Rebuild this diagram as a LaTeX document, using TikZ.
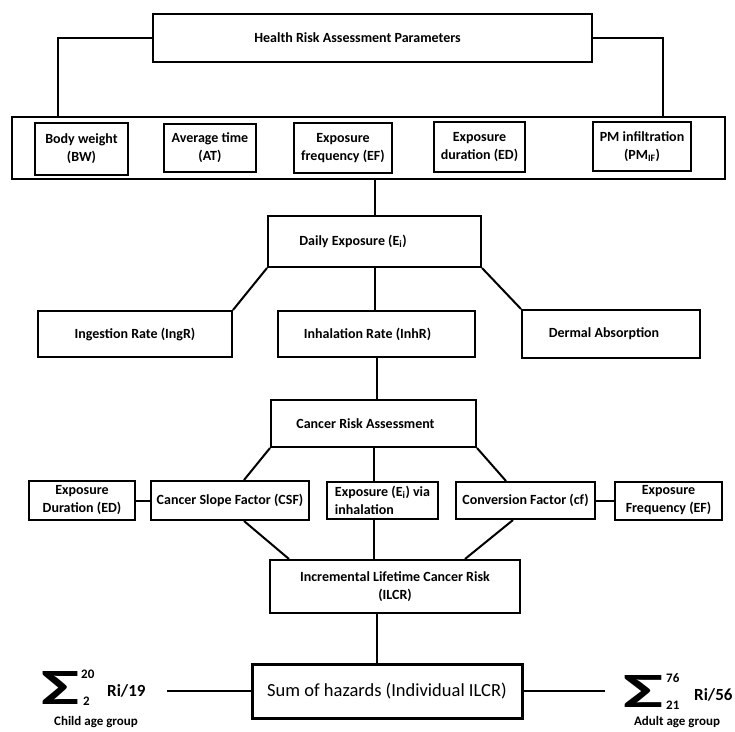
\documentclass[tikz,border=0pt]{standalone}
\usepackage{fontspec}
\setmainfont{Carlito}
\usetikzlibrary{calc}

\begin{document}
\begin{tikzpicture}[x=1pt,y=-1pt,
   font=\bfseries\fontsize{14}{18}\selectfont,
   box/.style={draw,line width=2pt,inner sep=2pt,align=center},
   link/.style={line width=2pt},
   lim/.style={inner sep=0pt,font=\bfseries\fontsize{13}{13}\selectfont}]
\useasboundingbox (0,0) rectangle (735,731);
% top: parameters
\node[box,minimum width=439pt,minimum height=48pt] (hra) at (372.5,38) {Health Risk Assessment Parameters\hspace*{30pt}};
\node[box,minimum width=713pt,minimum height=62pt] (par) at (368.5,148) {};
\node[box,minimum width=93pt,minimum height=52pt] (bw) at (81.5,149) {Body weight\\(BW)};
\node[box,minimum width=92pt,minimum height=48pt] (at) at (210,148) {Average time\\(AT)};
\node[box,minimum width=98pt,minimum height=50pt,inner sep=1pt] (ef) at (343,148) {Exposure\\frequency (EF)};
\node[box,minimum width=91pt,minimum height=50pt,inner sep=1pt] (ed) at (479.5,147) {Exposure\\duration (ED)};
\node[box,minimum width=98pt,minimum height=49pt,inner sep=1pt] (pm) at (642,146.5) {PM infiltration\\(PM\textsubscript{IF})};
\draw[link] (hra.west) -| ($(par.north west)+(47,0)$);
\draw[link] (hra.east) -| ($(par.north east)+(-63,0)$);
% exposure
\node[box,minimum width=213pt,minimum height=51pt] (daily) at (374.5,241.5) {Daily Exposure (E\textsubscript{i})\hspace*{43pt}};
\node[box,minimum width=194pt,minimum height=46pt] (ingr) at (135,334) {Ingestion Rate (IngR)};
\node[box,minimum width=197pt,minimum height=46pt] (inhr) at (376.5,334) {Inhalation Rate (InhR)\hspace*{18pt}};
\node[box,minimum width=178pt,minimum height=48pt] (derm) at (611,334) {Dermal Absorption\hspace*{14pt}};
\draw[link] (daily.north) -- (daily.north |- par.south);
\draw[link] (daily.south west) -- (ingr.north east);
\draw[link] (daily.south) -- (daily.south |- inhr.north);
\draw[link] (daily.south east) -- (derm.north west);
% cancer risk
\node[box,minimum width=205pt,minimum height=47pt] (cra) at (373.5,423.5) {Cancer Risk Assessment\hspace*{16pt}};
\node[box,minimum width=106pt,minimum height=39pt,inner sep=0pt] (edl) at (82,500.5) {Exposure\\Duration (ED)};
\node[box,minimum width=158pt,minimum height=39pt,inner sep=0pt] (csf) at (230,500.5) {Cancer Slope Factor (CSF)};
\node[box,minimum width=111pt,minimum height=37pt,inner sep=0pt,align=left] (expi) at (382.5,500.5) {Exposure (E\textsubscript{i}) via\\inhalation};
\node[box,minimum width=139pt,minimum height=37pt,inner sep=0pt] (cf) at (525.5,500.5) {Conversion Factor (cf)};
\node[box,minimum width=107pt,minimum height=38pt,inner sep=0pt] (efr) at (668.5,500.5) {Exposure\\Frequency (EF)};
\draw[link] (inhr.south) -- (inhr.south |- cra.north);
\draw[link] (cra.south west) -- ($(csf.north)+(14,0)$);
\draw[link] (cra.south) -- (cra.south |- expi.north);
\draw[link] (cra.south east) -- ($(cf.north)+(-19.5,0)$);
\draw[link] (edl) -- (csf);
\draw[link] (cf) -- (efr);
% ILCR and sum
\node[box,minimum width=250pt,minimum height=53pt] (ilcr) at (395,586.5) {Incremental Lifetime Cancer Risk\\(ILCR)};
\node[box,line width=3pt,minimum width=270pt,minimum height=54pt,font=\fontsize{18.5}{22}\selectfont] (sum) at (387,691) {Sum of hazards (Individual ILCR)};
\draw[link] ($(csf.south)+(14,0)$) -- ($(ilcr.north west)+(20,0)$);
\draw[link] (cra.south |- expi.south) -- (cra.south |- ilcr.north);
\draw[link] ($(cf.south)+(-12.5,0)$) -- ($(ilcr.north east)+(-56,0)$);
\draw[link] ($(ilcr.south)+(-18,0)$) -- ($(sum.north)+(-10,0)$);
% age groups
\node[inner sep=0pt] (sigc) at (61,688) {\resizebox{38pt}{33pt}{Σ}};
\node[lim,anchor=west] (c20) at (81,674) {20};
\node[lim,anchor=west] (c2) at (83,701) {2};
\node[inner sep=0pt,anchor=west,font=\bfseries\fontsize{17}{17}\selectfont] (ri19) at (107,691) {Ri/19};
\node[inner sep=1pt,font=\bfseries\fontsize{13}{15}\selectfont] (child) at (96,722) {Child age group};
\node[inner sep=0pt] (siga) at (643,691) {\resizebox{40pt}{32pt}{Σ}};
\node[lim,anchor=west] (a76) at (666,678) {76};
\node[lim,anchor=west] (a21) at (666,705) {21};
\node[inner sep=0pt,anchor=west,font=\bfseries\fontsize{17}{17}\selectfont] (ri56) at (694,695) {Ri/56};
\node[inner sep=1pt,font=\bfseries\fontsize{13}{15}\selectfont] (adult) at (677,722) {Adult age group};
\coordinate (cl) at (167,691);
\coordinate (cr) at (605,691);
\draw[link] (sum.west) -- (cl);
\draw[link] (sum.east) -- (cr);
\end{tikzpicture}
\end{document}
